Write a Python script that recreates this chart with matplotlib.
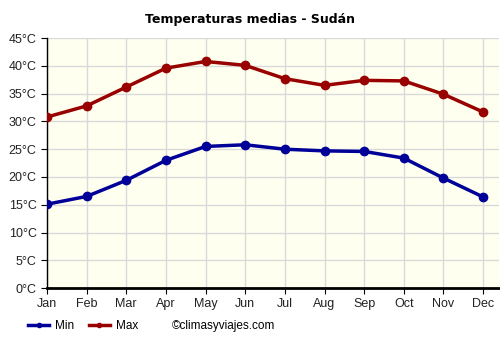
import matplotlib
matplotlib.use("Agg")
import matplotlib.pyplot as plt
from matplotlib.lines import Line2D

months = ['Jan', 'Feb', 'Mar', 'Apr', 'May', 'Jun', 'Jul', 'Aug', 'Sep', 'Oct', 'Nov', 'Dec']
t_max = [30.8, 32.8, 36.2, 39.6, 40.8, 40.1, 37.7, 36.5, 37.4, 37.3, 34.9, 31.7]
t_min = [15.1, 16.5, 19.4, 23.0, 25.5, 25.8, 25.0, 24.7, 24.6, 23.4, 19.8, 16.4]
y_ticks = [0, 5, 10, 15, 20, 25, 30, 35, 40, 45]

plt.rcParams['font.family'] = ['Liberation Sans', 'DejaVu Sans']

fig = plt.figure(figsize=(5, 3.5), dpi=100)
ax = fig.add_axes([0.094, 0.177, 0.904, 0.714])
ax.set_facecolor('#fffff0')

x = range(len(months))
ax.plot(x, t_min, color='#000099', lw=2.5, marker='o', ms=6, zorder=3)
ax.plot(x, t_max, color='#990000', lw=2.5, marker='o', ms=6, zorder=3)

ax.set_xlim(0, 11.4)
ax.set_ylim(0, 45)
ax.set_xticks(list(x))
ax.set_xticklabels(months)
ax.set_yticks(y_ticks)
ax.set_yticklabels([f'{v}°C' for v in y_ticks])
ax.grid(color='#d9d9d9', lw=1)
ax.set_axisbelow(True)
ax.tick_params(labelsize=9, length=4, color='black', colors='#222222')
ax.spines['top'].set_visible(False)
ax.spines['right'].set_visible(False)
ax.spines['left'].set_linewidth(1)
ax.spines['bottom'].set_linewidth(2)

fig.text(0.5, 0.945, 'Temperaturas medias - Sudán', ha='center', va='center',
         fontsize=9, fontweight='bold', family='DejaVu Sans')

handles = [Line2D([], [], color='#000099', lw=2.5, marker='o', ms=3),
           Line2D([], [], color='#990000', lw=2.5, marker='o', ms=3)]
fig.legend(handles, ['Min', 'Max'], loc='center left', bbox_to_anchor=(0.035, 0.068),
           ncol=2, frameon=False, fontsize=8.5, handlelength=1.8, columnspacing=1.2,
           handletextpad=0.5)
fig.text(0.343, 0.068, '©climasyviajes.com', ha='left', va='center', fontsize=8.5)

fig.savefig('out.png', dpi=100)
